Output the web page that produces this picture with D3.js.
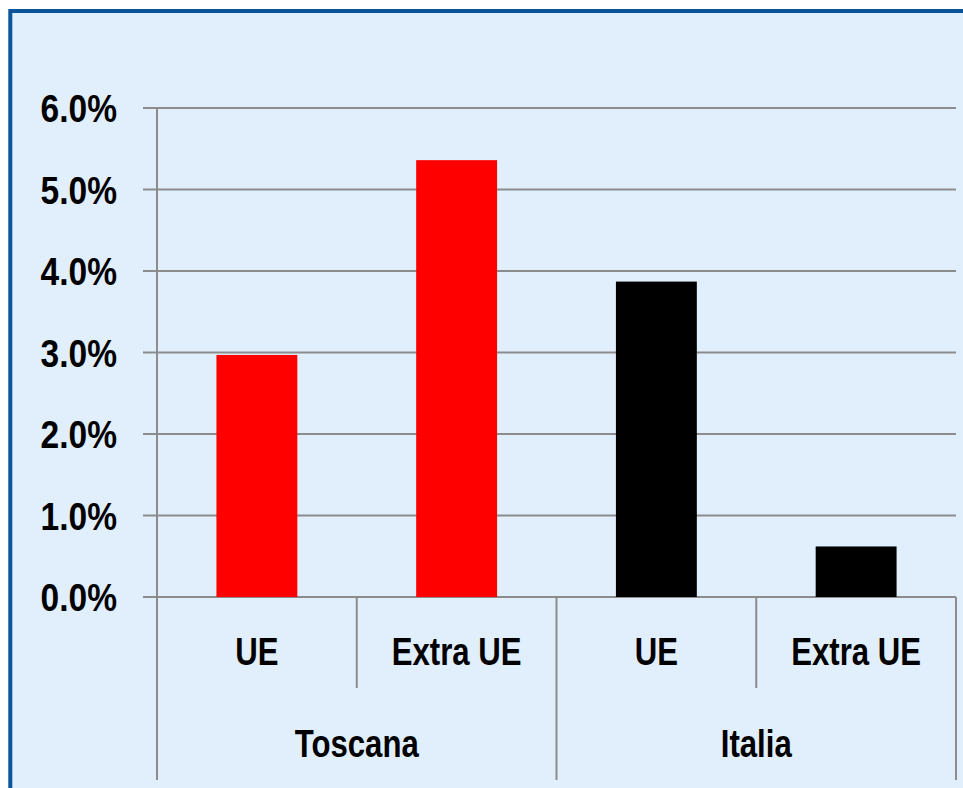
<!DOCTYPE html>
<html>
<head>
<meta charset="utf-8">
<script src="https://cdn.jsdelivr.net/npm/d3@7"></script>
<style>
  body { margin: 0; background: #fff; }
  text { font-family: "Liberation Sans Narrow", "Arial Narrow", "Liberation Sans", Arial, sans-serif; font-weight: bold; fill: #000; }
</style>
</head>
<body>
<svg id="chart"></svg>
<script>
// Chart data
const groups = ["Toscana", "Italia"];
const subLabels = ["UE", "Extra UE"];
const values = [2.97, 5.36, 3.87, 0.62]; // %, Toscana UE, Toscana Extra UE, Italia UE, Italia Extra UE
const barColors = ["#ff0000", "#ff0000", "#000000", "#000000"];
const yTicks = [0, 1, 2, 3, 4, 5, 6];

const width = 963, height = 788;
const plot = { left: 157, right: 956, top: 108, bottom: 597 };

const svg = d3.select("#chart")
  .attr("width", width)
  .attr("height", height);

// Panel background and border
svg.append("rect")
  .attr("x", 10.3).attr("y", 11)
  .attr("width", 1000).attr("height", 1000)
  .attr("fill", "#e1eefc")
  .attr("stroke", "#0a5499")
  .attr("stroke-width", 4);

const cats = d3.range(values.length);
const x = d3.scaleBand()
  .domain(cats)
  .range([plot.left, plot.right]);

const y = d3.scaleLinear()
  .domain([0, 6])
  .range([plot.bottom, plot.top]);

const gridColor = "#8c8c8c";

// Gridlines + ticks
svg.append("g")
  .selectAll("line")
  .data(yTicks)
  .join("line")
  .attr("x1", plot.left - 14)
  .attr("x2", plot.right)
  .attr("y1", d => y(d))
  .attr("y2", d => y(d))
  .attr("stroke", gridColor)
  .attr("stroke-width", 2);

// Y labels (condensed look)
svg.append("g")
  .selectAll("text")
  .data(yTicks)
  .join("text")
  .attr("transform", d => `translate(117,${y(d)}) scale(0.86,1)`)
  .attr("dy", "0.36em")
  .attr("text-anchor", "end")
  .style("font-size", "39px")
  .text(d => d.toFixed(1) + "%");

// Bars
const barW = x.bandwidth() * 0.405;
svg.append("g")
  .selectAll("rect")
  .data(values)
  .join("rect")
  .attr("x", (d, i) => x(i) + (x.bandwidth() - barW) / 2)
  .attr("y", d => y(d))
  .attr("width", barW)
  .attr("height", d => y(0) - y(d))
  .attr("fill", (d, i) => barColors[i]);

// Y axis line
svg.append("line")
  .attr("x1", plot.left).attr("x2", plot.left)
  .attr("y1", plot.top).attr("y2", 780)
  .attr("stroke", gridColor).attr("stroke-width", 2);

// Category separators (short between sub-categories, long between groups)
const sepX = d3.range(1, values.length + 1).map(i => i < values.length ? x(i) : plot.right);
svg.append("g")
  .selectAll("line")
  .data(sepX)
  .join("line")
  .attr("x1", d => d).attr("x2", d => d)
  .attr("y1", plot.bottom)
  .attr("y2", (d, i) => (i + 1) % 2 === 0 ? 780 : 688)
  .attr("stroke", gridColor).attr("stroke-width", 2);

// Sub-category labels
svg.append("g")
  .selectAll("text")
  .data(cats)
  .join("text")
  .attr("transform", i => `translate(${x(i) + x.bandwidth() / 2},665) scale(0.82,1)`)
  .attr("text-anchor", "middle")
  .style("font-size", "38px")
  .text(i => subLabels[i % 2]);

// Group labels
svg.append("g")
  .selectAll("text")
  .data(groups)
  .join("text")
  .attr("transform", (d, i) => `translate(${x(i * 2 + 1)},757) scale(0.82,1)`)
  .attr("text-anchor", "middle")
  .style("font-size", "38px")
  .text(d => d);
</script>
</body>
</html>
